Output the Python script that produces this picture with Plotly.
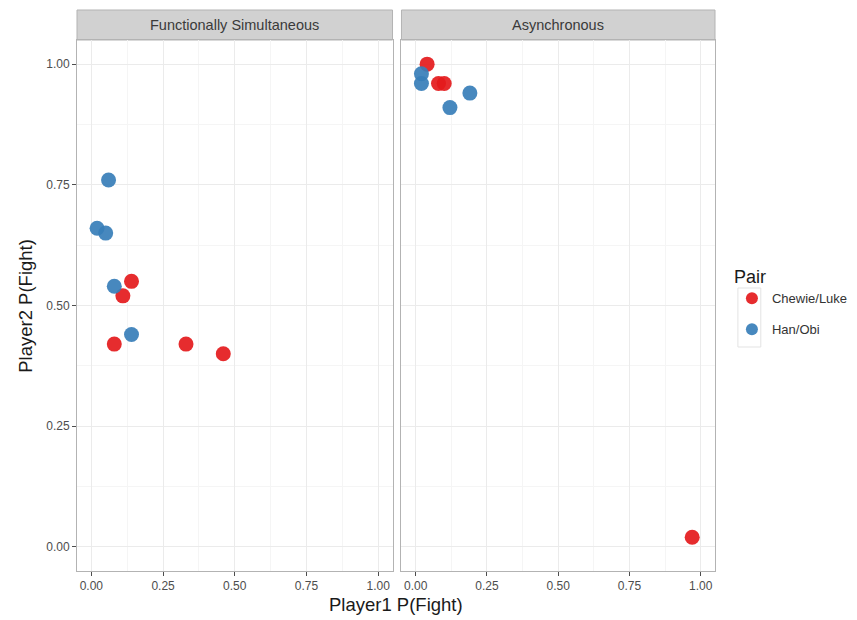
import plotly.graph_objects as go

# Data
facets = ["Functionally Simultaneous", "Asynchronous"]
pairs = ["Chewie/Luke", "Han/Obi"]
colors = {"Chewie/Luke": "#E41A1C", "Han/Obi": "#377EB8"}

sim_chewie_x = [0.14, 0.11, 0.08, 0.33, 0.46]
sim_chewie_y = [0.55, 0.52, 0.42, 0.42, 0.40]
sim_han_x = [0.06, 0.02, 0.05, 0.08, 0.14]
sim_han_y = [0.76, 0.66, 0.65, 0.54, 0.44]

asy_chewie_x = [0.04, 0.08, 0.10, 0.97]
asy_chewie_y = [1.00, 0.96, 0.96, 0.02]
asy_han_x = [0.02, 0.02, 0.19, 0.12]
asy_han_y = [0.98, 0.96, 0.94, 0.91]

tick_vals = [0, 0.25, 0.5, 0.75, 1.0]
tick_text = ["0.00", "0.25", "0.50", "0.75", "1.00"]

fig = go.Figure()

series = [
    ("x", "y", sim_chewie_x, sim_chewie_y, "Chewie/Luke", True),
    ("x", "y", sim_han_x, sim_han_y, "Han/Obi", True),
    ("x2", "y2", asy_chewie_x, asy_chewie_y, "Chewie/Luke", False),
    ("x2", "y2", asy_han_x, asy_han_y, "Han/Obi", False),
]
for xa, ya, xs, ys, name, show in series:
    fig.add_trace(go.Scatter(
        x=xs, y=ys, xaxis=xa, yaxis=ya, mode="markers", name=name,
        legendgroup=name, showlegend=show,
        marker=dict(color=colors[name], size=15, opacity=0.92, line=dict(width=0)),
    ))

grid = "#EBEBEB"
minor_grid = "#F5F5F5"
border = "#B3B3B3"
FONT = "Liberation Sans, Arial, sans-serif"
tickfont = dict(family=FONT, size=12, color="#4D4D4D")

axis_common = dict(
    range=[-0.05, 1.05], tickvals=tick_vals, ticktext=tick_text,
    showgrid=True, gridcolor=grid, gridwidth=1,
    minor=dict(tickvals=[0.125, 0.375, 0.625, 0.875], showgrid=True, gridcolor=minor_grid, ticks=""),
    zeroline=False, showline=True, linecolor=border, linewidth=1, mirror=True,
    ticks="outside", ticklen=4, tickcolor="#4D4D4D", tickfont=tickfont,
)

# plot area in window pixels: x 77..718, y 40..571 (page body margin is 8px)
PW, PH = 641, 531
d1 = (394 - 77) / PW
d2 = (403 - 77) / PW

y2_axis = {k: v for k, v in axis_common.items()}
y2_axis.update(showticklabels=False, ticks="")

fig.update_layout(
    width=857, height=620,
    margin=dict(l=69, r=147, t=32, b=57),
    paper_bgcolor="white", plot_bgcolor="white",
    font=dict(family=FONT),
    xaxis=dict(domain=[0, d1], anchor="y", **axis_common),
    xaxis2=dict(domain=[d2, 1], anchor="y2", **axis_common),
    yaxis=dict(domain=[0, 1], anchor="x", **axis_common),
    yaxis2=dict(domain=[0, 1], anchor="x2", matches="y", **y2_axis),
    legend=dict(
        x=(735 - 77) / PW, y=(571 - 260) / PH, xanchor="left", yanchor="top",
        title=dict(text="Pair", font=dict(size=18, color="#1A1A1A")),
        font=dict(size=13, color="#333333"),
        itemsizing="constant", tracegroupgap=11,
        bgcolor="rgba(0,0,0,0)",
    ),
)

strip_h = 30 / PH
shapes = []
annotations = []
for (x0, x1), label in zip([(0, d1), (d2, 1)], facets):
    shapes.append(dict(type="rect", xref="paper", yref="paper", x0=x0, x1=x1,
                       y0=1, y1=1 + strip_h, fillcolor="#D1D1D1",
                       line=dict(color=border, width=1), layer="below"))
    annotations.append(dict(xref="paper", yref="paper", x=(x0 + x1) / 2, y=1 + strip_h / 2,
                            text=label, showarrow=False, xanchor="center", yanchor="middle",
                            font=dict(size=14.5, color="#3A3A3A")))

# legend key box
shapes.append(dict(type="rect", xref="paper", yref="paper",
                   x0=(741 - 77) / PW, x1=(764 - 77) / PW,
                   y0=(571 - 347) / PH, y1=(571 - 288) / PH,
                   line=dict(color="#E3E3E3", width=1), fillcolor="rgba(0,0,0,0)"))

annotations.append(dict(xref="paper", yref="paper", x=0.5, y=-(604 - 571) / PH, yanchor="middle",
                        text="Player1 P(Fight)", showarrow=False,
                        font=dict(size=18.5, color="#1A1A1A")))
annotations.append(dict(xref="paper", yref="paper", x=(25 - 77) / PW, y=0.5, xanchor="center",
                        text="Player2 P(Fight)", showarrow=False, textangle=-90,
                        font=dict(size=18.5, color="#1A1A1A")))

fig.update_layout(shapes=shapes, annotations=annotations)

fig.write_html("out.html")
